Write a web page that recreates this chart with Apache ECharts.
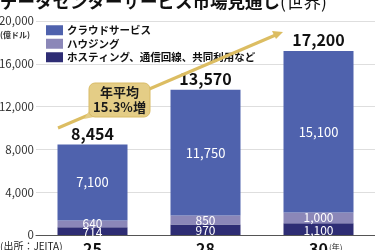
<!DOCTYPE html>
<html><head><meta charset="utf-8">
<script src="https://cdn.jsdelivr.net/npm/echarts@6/dist/echarts.min.js"></script>
<style>html,body{margin:0;padding:0;background:#fff}#c{width:375px;height:250px}</style>
</head><body><div id="c"></div>
<script>
var categories = ['25', '28', '30'];
var hosting = [714, 970, 1100];
var housing = [640, 850, 1000];
var cloud = [7100, 11750, 15100];
var totals = [8454, 13570, 17200];
var yTicks = [0, 4000, 8000, 12000, 16000, 20000];
var seriesNames = ['クラウドサービス', 'ハウジング', 'ホスティング、通信回線、共同利用など'];

var FONT = '"Noto Sans CJK JP", "Noto Sans", sans-serif';
var fmt = function (v) { return Number(v).toLocaleString('en-US'); };
var chart = echarts.init(document.getElementById('c'), null, {renderer: 'canvas'});

var arrowColor = '#dcbd62';
chart.setOption({
  animation: false,
  textStyle: {fontFamily: FONT},
  grid: {left: 36, right: 0, top: 21, bottom: 15, containLabel: false, outerBoundsMode: 'none'},
  legend: {
    data: seriesNames,
    orient: 'vertical', left: 46, top: 25, padding: 0,
    itemWidth: 17, itemHeight: 10, itemGap: 3, icon: 'rect',
    textStyle: {fontFamily: FONT, fontSize: 10.5, fontWeight: 'bold', color: '#111', lineHeight: 10, padding: [0, 0, 0, -1]}
  },
  xAxis: {
    type: 'category', data: categories,
    axisLine: {lineStyle: {color: '#555', width: 1}},
    axisTick: {show: false},
    axisLabel: {fontFamily: FONT, fontSize: 16, fontWeight: 'bold', color: '#111', margin: 6}
  },
  yAxis: {
    type: 'value', min: yTicks[0], max: yTicks[yTicks.length - 1], interval: yTicks[1] - yTicks[0],
    axisLine: {show: false}, axisTick: {show: false},
    splitLine: {lineStyle: {color: '#dedede', width: 1}},
    axisLabel: {fontFamily: FONT, fontSize: 11.5, color: '#333', margin: 2, formatter: fmt}
  },
  series: [
    {
      name: seriesNames[2], type: 'bar', stack: 'a', data: hosting, barWidth: 70,
      itemStyle: {color: '#2e2d74'},
      label: {show: true, position: 'inside', offset: [0, 1], color: '#fff', fontSize: 12, fontFamily: FONT, formatter: function (p) { return fmt(p.value); }}
    },
    {
      name: seriesNames[1], type: 'bar', stack: 'a', data: housing, barWidth: 70,
      itemStyle: {color: '#8b87b8'},
      label: {show: true, position: 'inside', offset: [0, 0], color: '#fff', fontSize: 12, fontFamily: FONT, formatter: function (p) { return fmt(p.value); }}
    },
    {
      name: seriesNames[0], type: 'bar', stack: 'a', data: cloud, barWidth: 70,
      itemStyle: {color: '#4f62ad'},
      label: {show: true, position: 'inside', color: '#fff', fontSize: 13, fontFamily: FONT, formatter: function (p) { return fmt(p.value); }}
    },
    {
      name: 'total', type: 'bar', stack: 'a', data: totals.map(function () { return 0; }), barWidth: 70,
      itemStyle: {color: 'transparent'},
      label: {show: true, position: 'top', distance: 3, color: '#111', fontSize: 16, fontWeight: 'bold', fontFamily: FONT,
        formatter: function (p) { return fmt(totals[p.dataIndex]); }}
    }
  ],
  graphic: [
    {type: 'text', left: 0, top: -7, z: 10, style: {
      text: '{a|データセンターサービス市場見通し}{b|(世界)}',
      rich: {
        a: {fontFamily: FONT, fontSize: 17.5, fontWeight: 'bold', fill: '#111'},
        b: {fontFamily: FONT, fontSize: 17.5, fontWeight: 'normal', fill: '#111'}
      }}},
    {type: 'text', left: 0, top: 31, style: {text: '(億ドル)', fontFamily: FONT, fontSize: 8, fontWeight: 'bold', fill: '#333'}},
    {type: 'text', left: 0, top: 241, style: {text: '(出所：JEITA)', fontFamily: FONT, fontSize: 10, fill: '#222'}},
    {type: 'text', left: 329, top: 243, style: {text: '(年)', fontFamily: FONT, fontSize: 8, fill: '#222'}},
    {type: 'line', z: 20, shape: {x1: 58, y1: 128, x2: 278, y2: 34}, style: {stroke: arrowColor, lineWidth: 3}},
    {type: 'polygon', z: 20, shape: {points: [[283, 32], [272, 31], [276, 39]]}, style: {fill: arrowColor}},
    {type: 'polygon', z: 21, shape: {points: [[91, 108], [99, 116], [84, 119]]}, style: {fill: '#e4cd86'}},
    {type: 'rect', z: 21, shape: {x: 89, y: 83, width: 61, height: 34, r: 6}, style: {fill: '#e4cd86', stroke: '#d9bb66', lineWidth: 1}},
    {type: 'text', z: 22, x: 119.5, y: 100, style: {
      text: '年平均\n15.3%増', align: 'center', verticalAlign: 'middle',
      fontFamily: FONT, fontSize: 13, fontWeight: 'bold', lineHeight: 15, fill: '#1a1a1a'}}
  ]
});
</script></body></html>
